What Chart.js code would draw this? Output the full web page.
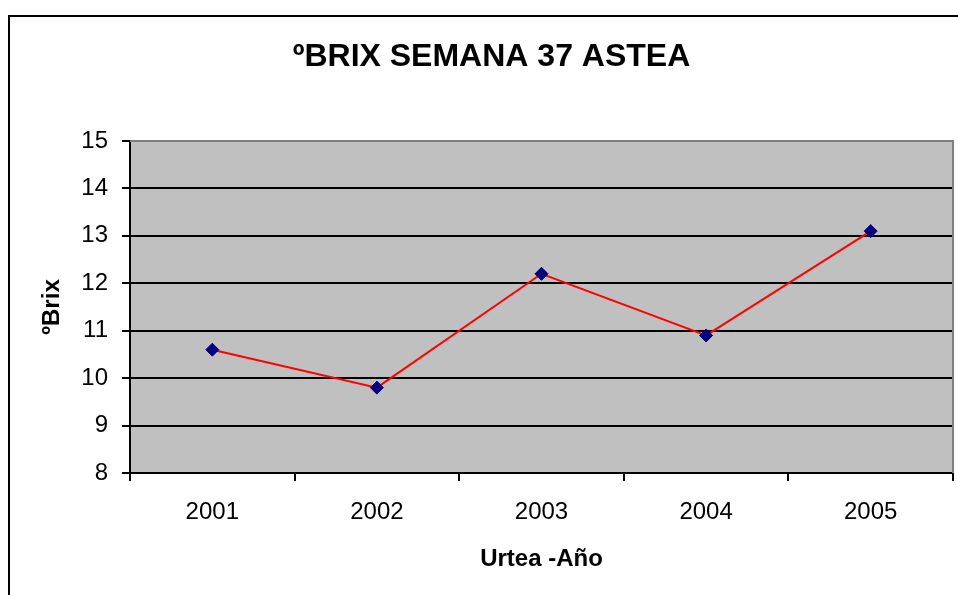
<!DOCTYPE html>
<html>
<head>
<meta charset="utf-8">
<script src="https://cdn.jsdelivr.net/npm/chart.js@4.4.1/dist/chart.umd.min.js"></script>
<style>
  html, body { margin: 0; padding: 0; background: #ffffff; }
  canvas { display: block; }
</style>
</head>
<body>
<canvas id="c" width="958" height="595"></canvas>
<script>
// ---- data ----
const categories = ['2001', '2002', '2003', '2004', '2005'];
const brixValues = [10.6, 9.8, 12.2, 10.9, 13.1];
const yMin = 8;
const yMax = 15;
const yStep = 1;
const chartTitle = 'ºBRIX SEMANA 37 ASTEA';
const yTitle = 'ºBrix';
const xTitle = 'Urtea -Año';

const FONT = '"Liberation Sans", Arial, Helvetica, sans-serif';

function drawGrayFrame(chart) {
  const ctx = chart.ctx;
  const a = chart.chartArea;
  ctx.save();
  ctx.strokeStyle = '#808080';
  ctx.lineWidth = 2;
  ctx.beginPath();
  ctx.moveTo(a.left, a.top);
  ctx.lineTo(a.right, a.top);
  ctx.lineTo(a.right, a.bottom);
  ctx.stroke();
  ctx.restore();
}

const framePlugin = {
  id: 'frame',
  beforeDraw(chart) {
    const ctx = chart.ctx;
    const a = chart.chartArea;
    ctx.save();
    ctx.fillStyle = '#ffffff';
    ctx.fillRect(0, 0, chart.width, chart.height);
    // outer chart border (only top/left visible)
    ctx.strokeStyle = '#000000';
    ctx.lineWidth = 2;
    ctx.beginPath();
    ctx.moveTo(9, chart.height + 5);
    ctx.lineTo(9, 16);
    ctx.lineTo(chart.width + 5, 16);
    ctx.stroke();
    // plot background
    ctx.fillStyle = '#C0C0C0';
    ctx.fillRect(a.left, a.top, a.right - a.left, a.bottom - a.top);
    ctx.restore();
  },
  beforeDatasetsDraw(chart) { drawGrayFrame(chart); }
};

new Chart(document.getElementById('c'), {
  type: 'line',
  data: {
    labels: categories,
    datasets: [{
      label: yTitle,
      data: brixValues,
      borderColor: '#FF0000',
      borderWidth: 2,
      tension: 0,
      fill: false,
      pointStyle: 'rectRot',
      pointRadius: 6.5,
      pointBorderWidth: 1,
      pointBackgroundColor: '#000080',
      pointBorderColor: '#000080',
      clip: false
    }]
  },
  options: {
    responsive: false,
    animation: false,
    devicePixelRatio: 1,
    layout: { autoPadding: false, padding: { left: 30, right: 5, top: 0, bottom: 0 } },
    plugins: {
      legend: { display: false },
      tooltip: { enabled: false },
      title: {
        display: true,
        text: chartTitle,
        color: '#000000',
        font: { family: FONT, size: 32, weight: 'bold', lineHeight: 1.2 },
        padding: { top: 38, bottom: 64.6 }
      }
    },
    scales: {
      x: {
        type: 'category',
        offset: true,
        grid: {
          offset: true,
          drawOnChartArea: false,
          drawTicks: true,
          tickLength: 8,
          color: '#000000',
          lineWidth: 2
        },
        border: { display: true, color: '#000000', width: 2 },
        ticks: {
          color: '#000000',
          font: { family: FONT, size: 24 },
          padding: 17,
          maxRotation: 0,
          autoSkip: false
        },
        title: {
          display: true,
          text: xTitle,
          color: '#000000',
          font: { family: FONT, size: 24, weight: 'bold', lineHeight: 1.2 },
          padding: { top: 0, bottom: 21 }
        },
        afterFit(scale) {
          scale.height = 122;
          scale.paddingLeft = 0;
          scale.paddingRight = 0;
        }
      },
      y: {
        min: yMin,
        max: yMax,
        ticks: {
          stepSize: yStep,
          color: '#000000',
          font: { family: FONT, size: 24 },
          padding: 14
        },
        grid: {
          drawTicks: true,
          tickLength: 8,
          color: (c) => (c.tick && c.tick.value === yMax) ? 'rgba(0,0,0,0)' : '#000000',
          tickColor: '#000000',
          lineWidth: 2
        },
        border: { display: true, color: '#000000', width: 2 },
        title: {
          display: true,
          text: yTitle,
          color: '#000000',
          font: { family: FONT, size: 24, weight: 'bold', lineHeight: 1.2 },
          padding: { top: 8, bottom: 0 }
        },
        afterFit(scale) {
          scale.width = 100;
          scale.paddingTop = 0;
          scale.paddingBottom = 0;
        }
      }
    }
  },
  plugins: [framePlugin]
});
</script>
</body>
</html>
